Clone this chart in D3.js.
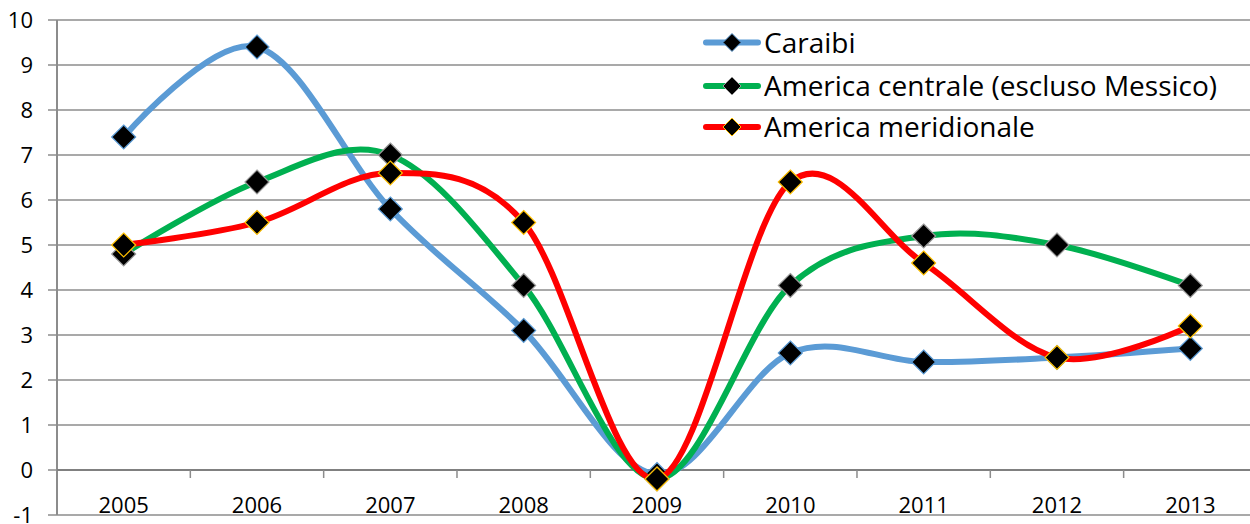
<!DOCTYPE html>
<html><head><meta charset="utf-8">
<script src="https://cdn.jsdelivr.net/npm/d3@7"></script>
<style>body{margin:0;background:#fff;overflow:hidden}svg{display:block}text{font-family:"Open Sans",Lato,sans-serif;fill:#000}</style>
</head><body><svg id="c" width="1250" height="524"></svg>
<script>
const years = ["2005","2006","2007","2008","2009","2010","2011","2012","2013"];
const caraibi = [7.4, 9.4, 5.8, 3.1, -0.1, 2.6, 2.4, 2.5, 2.7];
const centrale = [4.8, 6.4, 7.0, 4.1, -0.2, 4.1, 5.2, 5.0, 4.1];
const meridionale = [5.0, 5.5, 6.6, 5.5, -0.2, 6.4, 4.6, 2.5, 3.2];
const seriesNames = ["Caraibi", "America centrale (escluso Messico)", "America meridionale"];
const yTicks = [-1,0,1,2,3,4,5,6,7,8,9,10];

const series = [
  {name: seriesNames[0], values: caraibi, color: "#5B9BD5", border: "#5B9BD5"},
  {name: seriesNames[1], values: centrale, color: "#00B050", border: "#9a9a9a"},
  {name: seriesNames[2], values: meridionale, color: "#FF0000", border: "#FFC000"}
];

const svg = d3.select("#c");
const x = d3.scaleBand().domain(years).range([57, 57 + 133.33*9]);
const y = d3.scaleLinear().domain([-1, 10]).range([515, 20]);
const cx = d => x(d) + x.bandwidth()/2;

// gridlines
svg.append("g").selectAll("line").data(yTicks).join("line")
  .attr("x1", 48).attr("x2", 1250)
  .attr("y1", d => y(d)).attr("y2", d => y(d))
  .attr("stroke", "#8c8c8c").attr("stroke-width", 1.5);
// y axis line
svg.append("line").attr("x1", 57).attr("x2", 57).attr("y1", y(10)).attr("y2", y(-1))
  .attr("stroke", "#8c8c8c").attr("stroke-width", 2);
// y labels
svg.append("g").selectAll("text").data(yTicks).join("text")
  .attr("x", 33).attr("y", d => y(d)).attr("dy", "0.36em")
  .attr("text-anchor", "end").attr("font-size", 22).text(d => d);
// category axis at 0
svg.append("line").attr("x1", 57).attr("x2", 1250).attr("y1", y(0)).attr("y2", y(0))
  .attr("stroke", "#808080").attr("stroke-width", 2);
svg.append("g").selectAll("line").data(years.slice(1)).join("line")
  .attr("x1", d => x(d)).attr("x2", d => x(d)).attr("y1", y(0)).attr("y2", y(0) + 8)
  .attr("stroke", "#8c8c8c").attr("stroke-width", 1.5);
svg.append("g").selectAll("text").data(years).join("text")
  .attr("x", d => cx(d)).attr("y", 513).attr("text-anchor", "middle")
  .attr("font-size", 22).text(d => d);

const line = d3.line().x((d, i) => cx(years[i])).y(d => y(d)).curve(d3.curveCatmullRom.alpha(0));
const diamond = (s) => `M0,${-s}L${s},0L0,${s}L${-s},0Z`;

series.forEach(s => {
  const g = svg.append("g");
  g.append("path").attr("d", line(s.values)).attr("fill", "none")
    .attr("stroke", s.color).attr("stroke-width", 6).attr("stroke-linejoin", "round").attr("stroke-linecap", "round");
  g.selectAll("path.m").data(s.values).join("path").attr("class", "m")
    .attr("transform", (d, i) => `translate(${cx(years[i])},${y(d)})`)
    .attr("d", diamond(12)).attr("fill", "#000").attr("stroke", s.border).attr("stroke-width", 1.2);
});

// legend
const leg = svg.append("g");
series.forEach((s, i) => {
  const ly = [42.5, 86, 127][i];
  leg.append("line").attr("x1", 706).attr("x2", 758).attr("y1", ly).attr("y2", ly)
    .attr("stroke", s.color).attr("stroke-width", 6).attr("stroke-linecap", "round");
  leg.append("path").attr("transform", `translate(732,${ly})`).attr("d", diamond(9))
    .attr("fill", "#000").attr("stroke", s.border).attr("stroke-width", 1);
  leg.append("text").attr("x", 764).attr("y", ly).attr("dy", "0.36em")
    .attr("font-size", 28).text(s.name);
});
</script></body></html>
